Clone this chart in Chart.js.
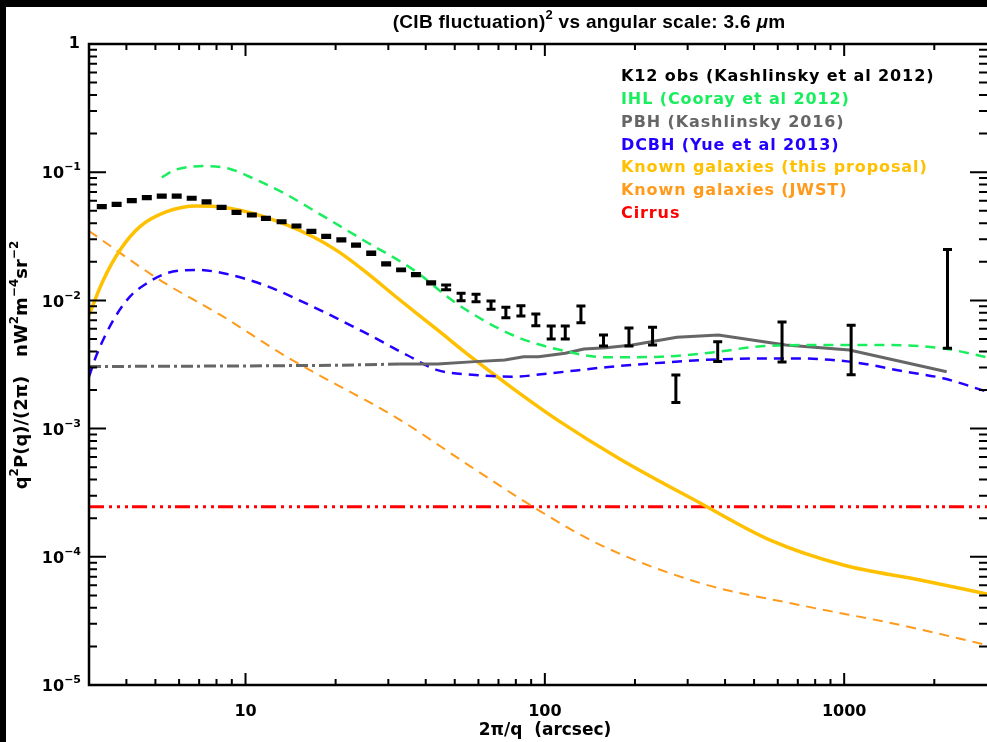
<!DOCTYPE html>
<html>
<head>
<meta charset="utf-8">
<script src="https://cdn.jsdelivr.net/npm/chart.js@4.4.0/dist/chart.umd.min.js"></script>
<style>
  html, body { margin: 0; padding: 0; background: #000; }
  canvas { display: block; }
</style>
</head>
<body>
<canvas id="chart" width="987" height="742"></canvas>
<script>
const xMin = 3, xMax = 3000, yMin = 1e-5, yMax = 1;

// K12 observations (Kashlinsky et al 2012) with error bars
const k12X  = [3.31,3.71,4.17,4.68,5.25,5.89,6.61,7.41,8.32,9.33,10.5,11.7,13.2,14.8,16.6,18.6,20.9,23.4,26.3,29.5,33.1,37.1,41.7,46.8,52.5,58.9,66.1,74.1,83.2,93.3,105,117,132,157,191,229,274,378,620,1055,2214];
const k12Y  = [0.0538,0.0562,0.0600,0.0633,0.0652,0.0652,0.0626,0.0586,0.0532,0.0487,0.0464,0.0437,0.0411,0.0380,0.0346,0.0316,0.0296,0.0270,0.0233,0.0193,0.0173,0.0159,0.0137,0.0127,0.0107,0.0105,0.0092,0.00807,0.00831,0.00703,0.00567,0.00564,0.00780,0.00485,0.00521,0.00527,0.00205,0.00398,0.00474,0.00410,0.0103];
const k12Lo = [0.0527,0.0551,0.0588,0.0621,0.0639,0.0639,0.0614,0.0575,0.0522,0.0477,0.0455,0.0428,0.0403,0.0373,0.0339,0.0310,0.0290,0.0265,0.0228,0.0189,0.0170,0.0156,0.0134,0.0121,0.00995,0.00977,0.00853,0.00733,0.00755,0.00635,0.00500,0.00500,0.00670,0.00441,0.00441,0.00449,0.00160,0.00333,0.00331,0.00263,0.00423];
const k12Hi = [0.0549,0.0573,0.0612,0.0646,0.0665,0.0665,0.0639,0.0598,0.0543,0.0497,0.0473,0.0446,0.0419,0.0388,0.0353,0.0322,0.0302,0.0275,0.0238,0.0197,0.0176,0.0162,0.0140,0.0132,0.01136,0.01116,0.00989,0.00883,0.00910,0.00783,0.00631,0.00631,0.00904,0.00537,0.00609,0.00617,0.00262,0.00476,0.00679,0.00639,0.0250];

// IHL (Cooray et al 2012)
const ihlX = [5.25,5.81,7.32,8.87,10.9,13.6,16.8,24.7,36.4,50.6,77.9,113,160,246,380,507,780,1388,2138,3000];
const ihlY = [0.0912,0.104,0.1117,0.106,0.0869,0.0676,0.0507,0.0296,0.0173,0.00949,0.00537,0.00410,0.00360,0.00364,0.00398,0.00435,0.00449,0.00449,0.00423,0.00360];

// PBH (Kashlinsky 2016)
const pbhX = [3,10,20,32.8,43.8,58.4,73.5,84.9,95.3,117,135,160,196,276,380,638,1041,2200];
const pbhY = [0.00305,0.00308,0.00312,0.00319,0.00319,0.00333,0.00343,0.00364,0.00364,0.00387,0.00418,0.00428,0.00449,0.00515,0.00537,0.00449,0.00410,0.00278];
const pbhDashBelow = 32.8;

// DCBH (Yue et al 2013)
const dcbhX = [3,3.18,3.62,4.11,4.68,5.45,6.87,8.43,11.5,16.8,24.7,34.6,43.8,58.4,77.9,104,160,246,380,675,1041,1602,2138,3000];
const dcbhY = [0.00254,0.00375,0.00703,0.0107,0.0136,0.0163,0.0173,0.0163,0.0132,0.00893,0.00570,0.00375,0.00286,0.00262,0.00254,0.00270,0.00301,0.00327,0.00347,0.00353,0.00333,0.00278,0.00247,0.00194];

// Known galaxies (this proposal)
const galX = [3,3.35,3.81,4.44,5.45,6.87,8.43,11.5,16.8,20.5,24.7,32.8,43.8,58.4,77.9,110,178,330,566,1000,1793,3000];
const galY = [0.00769,0.0144,0.0247,0.0376,0.0492,0.0545,0.0532,0.0450,0.0314,0.0239,0.0173,0.01007,0.00588,0.00343,0.00207,0.00117,5.8e-4,2.63e-4,1.35e-4,8.6e-5,6.6e-5,5.13e-5];

// Known galaxies (JWST)
const jwstX = [3,5.18,8.43,13.7,32.8,56.2,92.8,153,330,712,1538,3000];
const jwstY = [0.0348,0.0144,0.00746,0.00364,0.00117,5.1e-4,2.40e-4,1.24e-4,6.25e-5,4.2e-5,2.94e-5,2.05e-5];

// Cirrus
const cirX = [3,3000];
const cirY = [2.46e-4,2.46e-4];

const legendLabels = ['K12 obs (Kashlinsky et al 2012)','IHL (Cooray et al 2012)','PBH (Kashlinsky 2016)','DCBH (Yue et al 2013)','Known galaxies (this proposal)','Known galaxies (JWST)','Cirrus'];
const legendColors = ['#000000','#1aee5e','#666666','#2200ff','#ffc000','#ff9a1a','#ff0000'];

const xMajorLabels = ['10','100','1000'];
const yMajorExp = [0,-1,-2,-3,-4,-5];

const FONT = '"DejaVu Sans"';
const TITLE_FONT = '"Liberation Sans"';

function pts(xs, ys) { return xs.map((x, i) => ({x: x, y: ys[i]})); }

function rich(c, parts, x, y, size, align, family, spacing) {
  const fam = family || FONT;
  c.letterSpacing = (spacing || 0) + 'px';
  const f = p => (p.it ? 'italic ' : '') + 'bold ' + (p.sup ? Math.round(size * 0.68) : size) + 'px ' + fam;
  let w = 0;
  parts.forEach(p => { c.font = f(p); w += c.measureText(p.t).width; });
  let cx = align === 'center' ? x - w / 2 : (align === 'right' ? x - w : x);
  c.textAlign = 'left';
  parts.forEach(p => {
    c.font = f(p);
    c.fillText(p.t, cx, p.sup ? y - size * 0.42 : y);
    cx += c.measureText(p.t).width;
  });
  c.letterSpacing = '0px';
}

const frame = {
  id: 'frame',
  beforeDraw(chart) {
    const c = chart.ctx;
    c.save();
    c.fillStyle = '#000';
    c.fillRect(0, 0, chart.width, chart.height);
    c.fillStyle = '#fff';
    c.fillRect(6, 7, chart.width - 6, chart.height - 7);
    c.restore();
  },
  afterDatasetsDraw(chart) {
    const c = chart.ctx, a = chart.chartArea;
    const xs = chart.scales.x, ys = chart.scales.y;
    c.save();

    // error bars
    c.strokeStyle = '#000';
    c.lineWidth = 3;
    k12X.forEach((v, i) => {
      const px = xs.getPixelForValue(v);
      const lo = ys.getPixelForValue(k12Lo[i]), hi = ys.getPixelForValue(k12Hi[i]);
      const hw = (lo - hi) < 6 ? 5 : 4.5;
      c.beginPath();
      c.moveTo(px, lo); c.lineTo(px, hi);
      c.moveTo(px - hw, lo); c.lineTo(px + hw, lo);
      c.moveTo(px - hw, hi); c.lineTo(px + hw, hi);
      c.stroke();
    });

    // axes box
    c.lineWidth = 2.5;
    c.beginPath();
    c.moveTo(a.right + 2, a.top); c.lineTo(a.left, a.top);
    c.lineTo(a.left, a.bottom); c.lineTo(a.right + 2, a.bottom);
    c.stroke();

    c.lineWidth = 2;
    c.beginPath();
    for (let e = 0; e <= 3; e++) {
      for (let m = 1; m <= 9; m++) {
        const v = m * Math.pow(10, e);
        if (v <= xMin || v >= xMax) continue;
        const px = xs.getPixelForValue(v), len = m === 1 ? 12 : 6;
        c.moveTo(px, a.bottom); c.lineTo(px, a.bottom - len);
        c.moveTo(px, a.top); c.lineTo(px, a.top + len);
      }
    }
    for (let e = -5; e <= 0; e++) {
      for (let m = 1; m <= 9; m++) {
        const v = m * Math.pow(10, e);
        if (v <= yMin || v >= yMax) continue;
        const py = ys.getPixelForValue(v), len = m === 1 ? 17 : 8;
        c.moveTo(a.left, py); c.lineTo(a.left + len, py);
        c.moveTo(a.right, py); c.lineTo(a.right - len, py);
      }
    }
    c.stroke();

    // tick labels
    c.fillStyle = '#000';
    c.textBaseline = 'middle';
    xMajorLabels.forEach(t => {
      rich(c, [{t: t}], xs.getPixelForValue(Number(t)), a.bottom + 27, 16, 'center');
    });
    yMajorExp.forEach(e => {
      const py = ys.getPixelForValue(Math.pow(10, e));
      if (e === 0) rich(c, [{t: '1'}], 80, py, 16, 'right');
      else rich(c, [{t: '10'}, {t: '\u2212' + (-e), sup: true}], 81, py + 2, 16, 'right');
    });

    // title
    rich(c, [{t: '(CIB fluctuation)'}, {t: '2', sup: true}, {t: ' vs angular scale: 3.6 '}, {t: '\u03bc', it: true}, {t: 'm'}], 589, 23, 19, 'center', TITLE_FONT, 0.3);

    // x title
    rich(c, [{t: '2\u03c0/q  (arcsec)'}], 545, 731, 17, 'center');

    // y title
    c.save();
    c.translate(22, 365);
    c.rotate(-Math.PI / 2);
    rich(c, [{t: 'q'}, {t: '2', sup: true}, {t: 'P(q)/(2\u03c0)   nW'}, {t: '2', sup: true}, {t: 'm'}, {t: '\u22124', sup: true}, {t: 'sr'}, {t: '\u22122', sup: true}], 0, 0, 18, 'center');
    c.restore();

    // legend
    legendLabels.forEach((t, i) => {
      c.fillStyle = legendColors[i];
      rich(c, [{t: t}], 621, 77 + i * 22.8, 16, 'left', FONT, 0.9);
    });

    c.restore();
  }
};

const ctx = document.getElementById('chart').getContext('2d');
new Chart(ctx, {
  type: 'scatter',
  data: {
    datasets: [
      {label: 'K12', data: pts(k12X, k12Y), pointRadius: 0, showLine: false},
      {label: 'IHL', data: pts(ihlX, ihlY), showLine: true, borderColor: legendColors[1], borderWidth: 2.5, borderDash: [10, 7], pointRadius: 0, cubicInterpolationMode: 'monotone'},
      {label: 'PBH', data: pts(pbhX, pbhY), showLine: true, borderColor: legendColors[2], borderWidth: 3, pointRadius: 0,
        segment: {borderDash: s => s.p1.parsed.x <= pbhDashBelow ? [12, 4, 3, 4] : undefined}},
      {label: 'DCBH', data: pts(dcbhX, dcbhY), showLine: true, borderColor: legendColors[3], borderWidth: 2.5, borderDash: [10, 7], pointRadius: 0, cubicInterpolationMode: 'monotone'},
      {label: 'Gal', data: pts(galX, galY), showLine: true, borderColor: legendColors[4], borderWidth: 3.5, pointRadius: 0, cubicInterpolationMode: 'monotone'},
      {label: 'JWST', data: pts(jwstX, jwstY), showLine: true, borderColor: legendColors[5], borderWidth: 2, borderDash: [10, 7], pointRadius: 0, cubicInterpolationMode: 'monotone'},
      {label: 'Cirrus', data: pts(cirX, cirY), showLine: true, borderColor: legendColors[6], borderWidth: 3, borderDash: [15, 5, 3, 5, 3, 5, 3, 4], pointRadius: 0}
    ]
  },
  options: {
    responsive: false,
    animation: false,
    layout: {padding: {left: 89, right: 0, top: 44, bottom: 57}},
    plugins: {legend: {display: false}, tooltip: {enabled: false}, title: {display: false}},
    scales: {
      x: {type: 'logarithmic', min: xMin, max: xMax, display: false},
      y: {type: 'logarithmic', min: yMin, max: yMax, display: false}
    }
  },
  plugins: [frame]
});
</script>
</body>
</html>
